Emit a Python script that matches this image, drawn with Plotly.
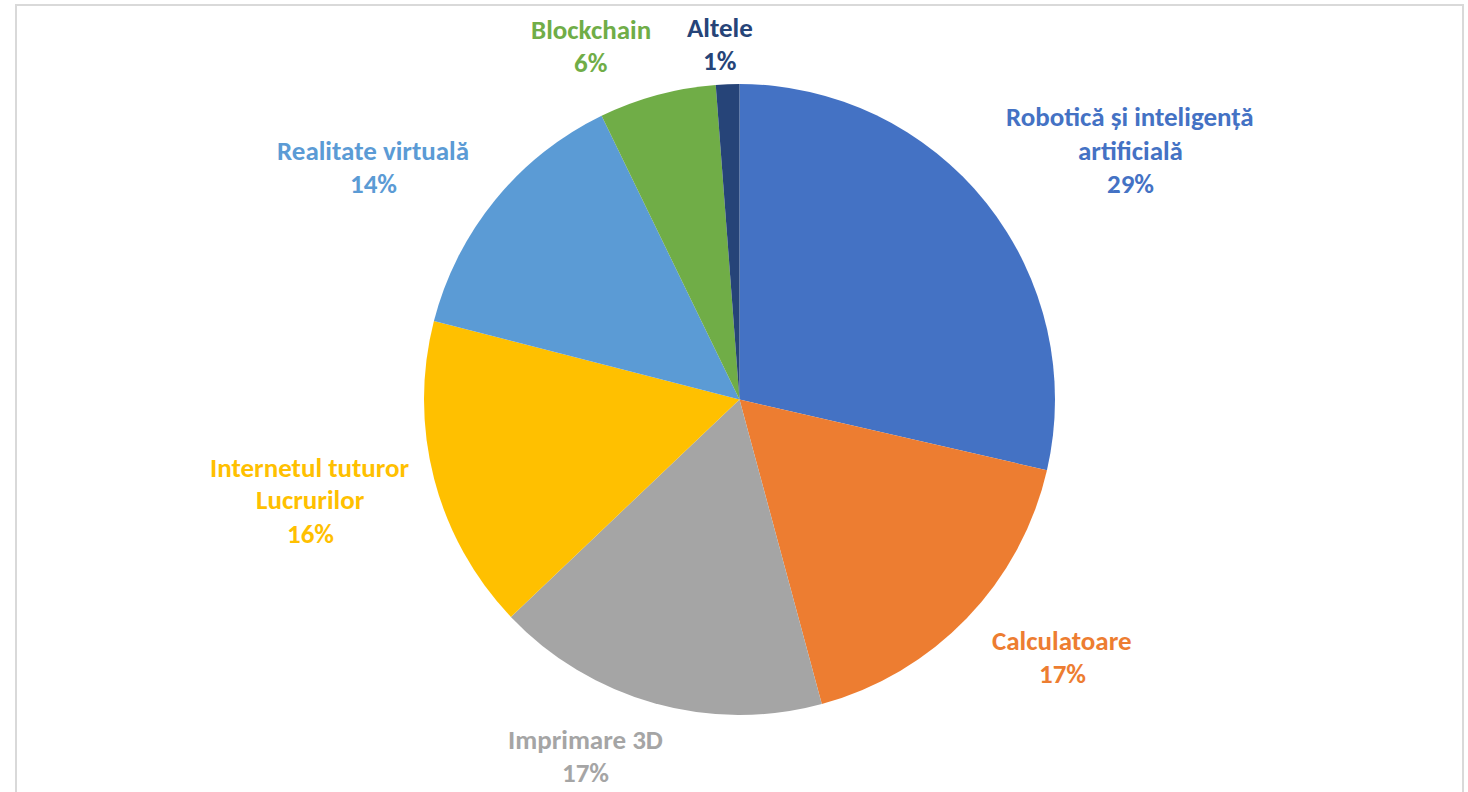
import plotly.graph_objects as go

W, H = 1468, 792
OFF = 0  # body margin removed via post_script

categories = ["Robotică și inteligență artificială", "Calculatoare", "Imprimare 3D",
              "Internetul tuturor Lucrurilor", "Realitate virtuală", "Blockchain", "Altele"]
values = [28.6, 17.2, 17.1, 16.1, 13.8, 6.0, 1.2]
colors = ["#4472C4", "#ED7D31", "#A5A5A5", "#FFC000", "#5B9BD5", "#70AD47", "#264478"]

# label text lines (as shown on chart) and label block centres in pixels
label_lines = [["Robotică și inteligență", "artificială"], ["Calculatoare"], ["Imprimare 3D"],
               ["Internetul tuturor", "Lucrurilor"], ["Realitate virtuală"], ["Blockchain"], ["Altele"]]
label_pos = [(1130, 150), (1062, 657), (585, 756), (310, 500), (373, 167), (591, 46), (720, 44)]

cx, cy, r = 739.5, 399.5, 315.5
LINE = 33

def px(x):
    return (x - OFF) / W

def py(y):
    return 1 - (y - OFF) / H

fig = go.Figure()
fig.add_trace(go.Pie(
    labels=categories, values=values, sort=False, direction="clockwise", rotation=0,
    marker=dict(colors=colors, line=dict(width=0)), textinfo="none", hoverinfo="label+percent",
    showlegend=False,
    domain=dict(x=[px(cx - r), px(cx + r)], y=[py(cy + r), py(cy - r)]),
))

total = sum(values)
annotations = []
for lines, (lx, ly), col, v in zip(label_lines, label_pos, colors, values):
    all_lines = lines + [f"{round(v / total * 100)}%"]
    n = len(all_lines)
    for i, t in enumerate(all_lines):
        y = ly + (i - (n - 1) / 2) * LINE
        annotations.append(dict(x=px(lx), y=py(y), xref="paper", yref="paper", text=f"<b>{t}</b>",
                                showarrow=False, xanchor="center", yanchor="middle",
                                font=dict(family="Carlito, Lato, sans-serif", size=27, color=col)))

fig.update_layout(
    width=W, height=H, margin=dict(l=0, r=0, t=0, b=0),
    paper_bgcolor="white", plot_bgcolor="white",
    annotations=annotations,
    shapes=[dict(type="rect", xref="paper", yref="paper", x0=px(16), x1=px(1463), y0=py(810), y1=py(5),
                 line=dict(color="#D9D9D9", width=2), fillcolor="rgba(0,0,0,0)")],
)

fig.write_html("out.html", config={"displayModeBar": False},
               post_script="document.body.style.margin='0';document.body.style.overflow='hidden';")
